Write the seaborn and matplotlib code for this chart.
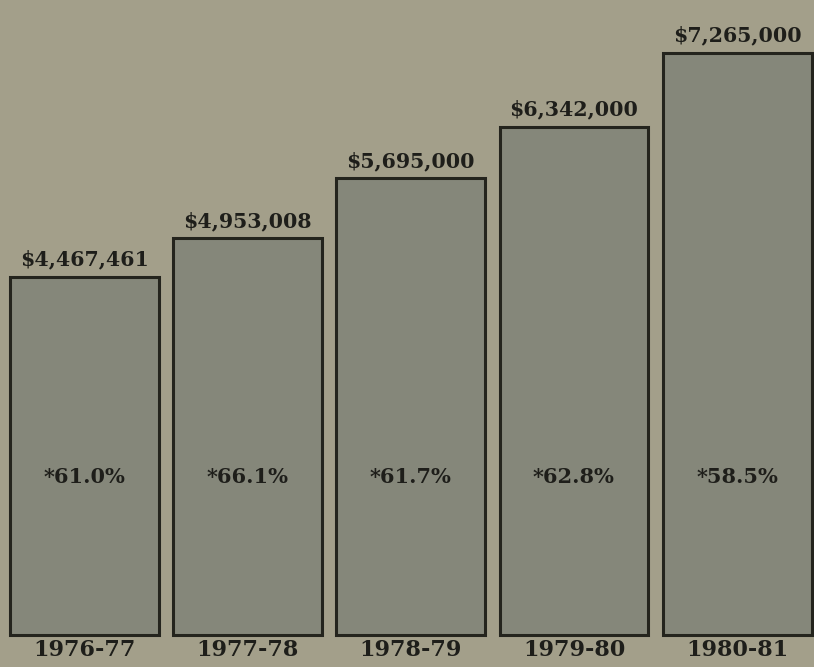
import matplotlib
matplotlib.use('Agg')
import matplotlib.pyplot as plt
import seaborn as sns
import pandas as pd

# 데이터
years = ['1976-77', '1977-78', '1978-79', '1979-80', '1980-81']
amounts = [4467461, 4953008, 5695000, 6342000, 7265000]
amount_labels = ['$4,467,461', '$4,953,008', '$5,695,000', '$6,342,000', '$7,265,000']
pct_labels = ['*61.0%', '*66.1%', '*61.7%', '*62.8%', '*58.5%']

df = pd.DataFrame({'year': years, 'amount': amounts})

sns.set_style('white')
plt.rcParams['font.family'] = ['DejaVu Serif']

bg = '#a39f8a'
fig = plt.figure(figsize=(8.14, 6.67), dpi=100, facecolor=bg)
# 축 영역: 막대 바닥선 기준
ax = fig.add_axes([0, 32 / 667, 1, 635 / 667])
ax.set_facecolor(bg)

sns.barplot(data=df, x='year', y='amount', color='#85877a', width=0.91,
            edgecolor='#24241d', linewidth=2.2, saturation=1, ax=ax)
for p in ax.patches:
    p.set_clip_on(False)

ax.set_xlim(-0.516, 4.47)
ax.set_ylim(0, 7.92e6)
for s in ax.spines.values():
    s.set_visible(False)
ax.set_xticks([])
ax.set_yticks([])
ax.set_xlabel('')
ax.set_ylabel('')

txt = dict(color='#1e1e1a', fontweight='bold')

# 막대 위 금액
for i, (v, t) in enumerate(zip(amounts, amount_labels)):
    ax.annotate(t, xy=(i, v), xytext=(0, 5), textcoords='offset points',
                ha='center', va='bottom', fontsize=14.8, **txt)

# 막대 안 퍼센트
for i, t in enumerate(pct_labels):
    ax.text(i, 1.97e6, t, ha='center', va='center', fontsize=15, **txt)

# 연도 레이블
for i, t in enumerate(years):
    ax.annotate(t, xy=(i, 0), xytext=(0, -3), textcoords='offset points',
                ha='center', va='top', fontsize=16, **txt)

fig.savefig('out.png', dpi=100, facecolor=bg)
